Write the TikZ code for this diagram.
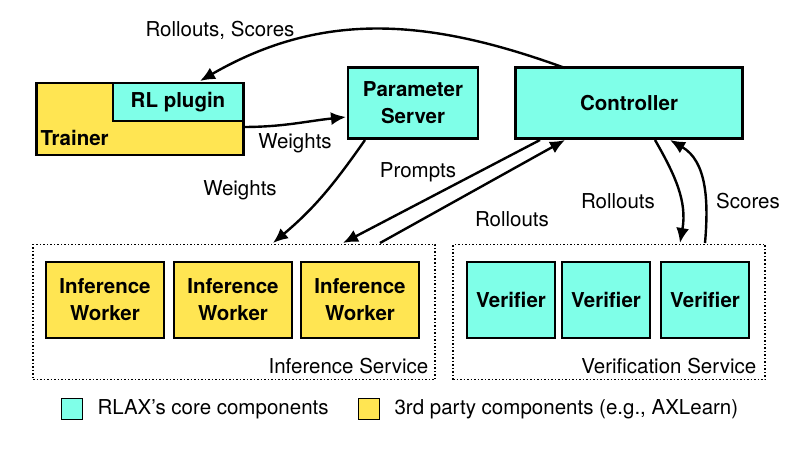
\documentclass[tikz,border=0pt]{standalone}
\usepackage{fontspec}
\setmainfont{TeX Gyre Heros}
\usetikzlibrary{arrows.meta}
\definecolor{cy}{HTML}{7FFFE8}
\definecolor{ye}{HTML}{FFE552}
\begin{document}
\begin{tikzpicture}[x=1pt,y=-1pt,
 box/.style={draw,line width=2.4pt,font=\fontsize{20.5}{27}\selectfont\bfseries,align=center,inner sep=0},
 svc/.style={draw,dotted,line width=1.5pt},
 lab/.style={font=\fontsize{20.5}{24}\selectfont},
 arr/.style={-{Latex[length=15pt,width=13pt]},line width=2.4pt}]
\useasboundingbox (0,0) rectangle (797,462);
% Trainer
\node[box,fill=ye,minimum width=207,minimum height=72] (tr) at (140,119) {};
\node[box,fill=cy,minimum width=130,minimum height=38] (rl) at (178,102) {RL plugin};
\node[font=\fontsize{20.5}{24}\selectfont\bfseries,anchor=west] (trl) at (37,138) {Trainer};
\node[box,fill=cy,minimum width=130,minimum height=71] (ps) at (413,103) {Parameter\\Server};
\node[box,fill=cy,minimum width=227,minimum height=71] (ct) at (629,103) {Controller};
% services
\node[svc,minimum width=402,minimum height=135] (is) at (234,312) {};
\node[svc,minimum width=312,minimum height=135] (vs) at (609,312) {};
\node[lab,anchor=south east] (isl) at ([shift={(-4,-3)}]is.south east) {Inference Service};
\node[lab,anchor=south east] (vsl) at ([shift={(-6,-3)}]vs.south east) {Verification Service};
\foreach \x/\n in {105/w1,233/w2,360/w3}
  \node[box,fill=ye,minimum width=118,minimum height=76] (\n) at (\x,300) {Inference\\Worker};
\foreach \x/\n in {511/v1,606/v2,705/v3}
  \node[box,fill=cy,minimum width=88,minimum height=76] (\n) at (\x,300) {Verifier};
% legend
\node[draw,line width=1.5pt,fill=cy,minimum size=21,inner sep=0] (lc) at (72,409) {};
\node[lab,anchor=west] (lct) at (94,409) {RLAX's core components};
\node[draw,line width=1.5pt,fill=ye,minimum size=21,inner sep=0] (ly) at (369,409) {};
\node[lab,anchor=west] (lyt) at (391,409) {3rd party components (e.g., AXLearn)};
% arrows
\coordinate (c1) at (565,68);
\coordinate (r1) at (200,81);
\draw[arr] (c1) to[out=160,in=30] (r1);
\node[lab] (l1) at (220,30) {Rollouts, Scores};
\coordinate (t1) at (243,127);
\coordinate (p1) at (346,117);
\draw[arr] (t1) to[out=0,in=186] (p1);
\node[lab] (l2) at (295,143) {Weights};
\coordinate (p2) at (365,140);
\coordinate (i1) at (273,243);
\draw[arr] (p2) to[out=235,in=40] (i1);
\node[lab] (l3) at (240,190) {Weights};
\coordinate (c2) at (540,140);
\coordinate (i2) at (343,243);
\draw[arr] (c2) -- (i2);
\coordinate (i3) at (380,243);
\coordinate (c3) at (565,140);
\draw[arr] (i3) -- (c3);
\node[lab] (l4) at (418,172) {Prompts};
\node[lab] (l5) at (512,219) {Rollouts};
\coordinate (c4) at (655,140);
\coordinate (v4) at (680,243);
\draw[arr] (c4) to[out=-60,in=80] (v4);
\coordinate (v5) at (705,243);
\coordinate (c5) at (670,140);
\draw[arr] (v5) to[out=85,in=-30] (c5);
\node[lab] (l6) at (618,201) {Rollouts};
\node[lab] (l7) at (748,201) {Scores};
\end{tikzpicture}
\end{document}
